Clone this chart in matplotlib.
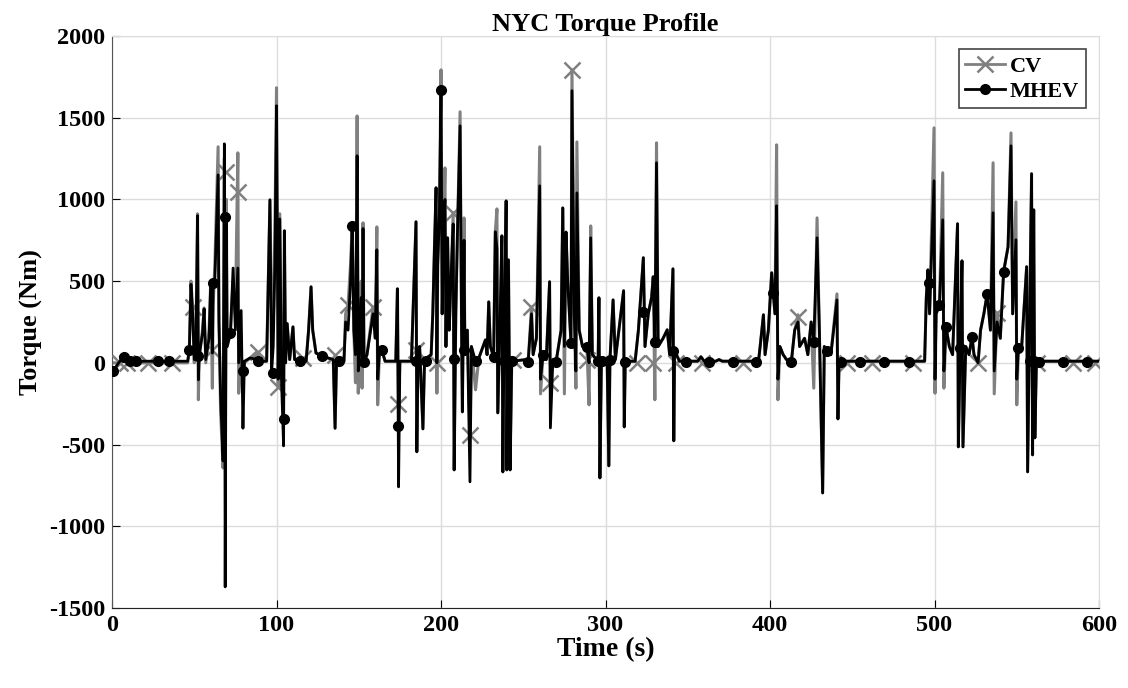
import matplotlib
matplotlib.use('Agg')
import matplotlib.pyplot as plt
from matplotlib.lines import Line2D

# Torque samples (time in s, torque in Nm)
time_s = [0, 1, 4, 7, 10, 15, 46, 47, 48, 49, 50, 51, 52, 52.5, 53, 55, 56, 57, 59, 60,
          61, 61.5, 62.5, 64.5, 65, 66, 67.5, 68.3, 68.8, 69.5, 70, 72, 73.6, 75, 76.5, 77, 78.5, 79.6, 80.5, 84,
          88, 90, 94, 95, 96, 97, 98, 99, 100, 101, 102, 103, 104.3, 104.8, 105.5, 106.5, 108, 110, 111, 118,
          119.5, 121, 122, 124, 128, 134.5, 135.6, 136.5, 141, 142, 143.5, 145, 146, 147, 148, 149, 149.7, 150.5, 151.5, 152,
          152.6, 153.2, 155, 158.7, 160, 161, 161.5, 162.5, 164, 166, 172.5, 173.5, 174.2, 175, 182, 184.8, 185.3, 186, 187, 189,
          190, 194, 195, 196, 197, 197.5, 198, 199, 200, 200.7, 201.5, 202.4, 203, 204, 205, 206, 207.4, 208, 209, 210,
          211.6, 212.5, 213, 214, 214.5, 216, 217.6, 218.5, 221, 223, 227, 228, 229, 230, 232, 233, 234, 234.5, 236, 237,
          237.6, 238.2, 239.6, 240, 241, 242, 243, 252, 253, 255, 256, 258, 260, 260.5, 262, 264, 266, 266.5, 268, 270,
          273, 274, 275, 276, 277, 279, 279.6, 281, 282, 282.6, 284, 286, 288.7, 290, 291, 292, 295.5, 296, 296.6, 297.5,
          301, 302, 302.7, 304.6, 306, 311, 311.4, 312, 318, 320, 323, 324, 326, 328, 329, 330, 331, 332, 335, 337.5,
          339, 341, 341.5, 342, 345, 356, 358, 360, 367, 369, 371, 393, 394, 396, 397, 399, 401, 402, 403, 404,
          404.8, 406, 408, 410, 413, 415, 417, 418, 421, 423, 425, 426.6, 428.6, 430, 432, 433, 434.6, 437, 440.7, 441.3,
          442, 494, 495, 496, 497, 499.7, 500.3, 501, 503, 505, 505.7, 507, 509, 511, 514, 514.5, 515.6, 516.7, 517.3, 519,
          521, 522.8, 524, 526.5, 528, 530, 532, 534, 535.6, 536.3, 538, 540, 542, 544.7, 546.5, 547.5, 549.5, 550, 551, 553,
          556, 556.6, 559, 559.6, 560.3, 561, 562, 563.5, 600]

cv_torque = [0, 0, 0, 20, 5, 0, 0, 80, 500, 340, 0, 150, 912, -226, 40, 200, 336, 0, 200, 500,
             -155, 350, 600, 1322, 300, -300, -643, 1250, -643, 1000, 100, 180, 500, 300, 1285, -186, 50, -100, 0, 30,
             67, 10, 10, 500, 997, 300, 200, 800, 1683, -146, 912, 0, -200, 808, 0, 240, 20, 220, 20, 10,
             200, 465, 200, 60, 40, 20, -400, 20, 10, 300, 355, 600, 845, 200, -122, 1511, -186, 300, 500, -155,
             857, 0, 50, 342, 200, 832, -257, 50, 80, 10, 10, 453, -263, 10, 10, 863, -544, 20, 100, -404,
             20, 50, 300, 700, 1071, -186, 600, 900, 1793, 300, 800, 1193, 100, 765, 200, 500, 918, -655, 300, 800,
             1536, 200, -300, 887, 80, 200, -440, 100, -165, 30, 140, 50, 373, 100, 37, 802, 942, -306, 300, 777,
             -667, 20, 991, -655, 630, -655, 10, 20, 10, 342, 50, 150, 1322, -190, 50, 20, 496, -135, 20, 10,
             200, 948, -190, 800, 500, 122, 1793, 300, -155, 1352, 200, 100, 98, -257, 838, 50, 10, 398, -704, 10,
             10, -630, 20, 385, 20, 441, -392, 10, 10, 200, 643, 100, 300, 400, 527, -226, 1346, 100, 150, 202,
             50, 575, -477, 73, 10, 10, 37, 10, 10, 20, 10, 10, 100, 294, 50, 200, 551, 428, 300, 1334,
             -226, 100, 50, 20, 10, 200, 294, 100, 150, 50, 250, -155, 887, 200, -796, 100, 73, 50, 422, -343,
             10, 10, 400, 569, 300, 1438, -186, 300, 355, 1163, -155, 220, 100, 50, 851, -514, 92, 624, -514, 100,
             50, 159, 50, 0, 200, 300, 422, 200, 1224, -190, 306, 150, 557, 710, 1407, 300, 985, -257, 92, 100,
             588, -667, 1157, -563, 936, -459, 30, 10, 10]

mhev_torque = [-50, -45, 0, 37, 12, 10, 10, 80, 480, 300, 20, 100, 900, -104, 43, 180, 330, 20, 150, 480,
               60, 490, 500, 1150, 250, -200, -600, 1340, -1371, 890, 100, 183, 580, 200, 580, 0, 320, -400, 10, 30,
               20, 10, 10, 500, 997, -61, 100, 600, 1573, -100, 880, -100, -508, 808, 0, 240, 20, 220, 20, 10,
               200, 465, 200, 60, 40, 20, -400, 20, 10, 250, 200, 500, 838, 200, 50, 1267, -50, 200, 400, 0,
               822, 6, 50, 300, 150, 692, -100, 50, 80, 10, 10, 453, -759, 10, 10, 863, -544, 20, 100, -404,
               20, 50, 300, 700, 1071, 0, 600, 900, 1671, 300, 800, 1000, 100, 765, 200, 500, 850, -655, 300, 800,
               1450, 200, -300, 750, 80, 200, -728, 100, 10, 30, 140, 50, 373, 100, 37, 802, 700, -306, 300, 777,
               -667, 20, 991, -655, 630, -655, 10, 20, 10, 300, 50, 150, 1083, -100, 50, 20, 496, -398, 20, 10,
               200, 948, 100, 800, 500, 122, 1665, 300, -50, 1040, 200, 100, 98, 0, 765, 50, 10, 398, -704, 10,
               10, -630, 20, 385, 20, 441, -392, 10, 10, 200, 643, 100, 300, 400, 527, 128, 1224, 100, 150, 202,
               50, 575, -477, 73, 10, 10, 37, 10, 10, 20, 10, 10, 100, 294, 50, 200, 551, 428, 300, 961,
               -100, 100, 50, 20, 10, 200, 250, 100, 150, 50, 250, 128, 765, 200, -796, 100, 73, 50, 385, -343,
               10, 10, 400, 569, 300, 1114, -100, 300, 355, 875, -50, 220, 100, 50, 851, -514, 92, 624, -514, 100,
               50, 159, 50, 0, 200, 300, 422, 200, 918, -50, 250, 150, 557, 710, 1328, 300, 753, -100, 92, 100,
               588, -667, 1157, -563, 936, -459, 30, 10, 10]

# marker positions as they appear on the figure
cv_mark_t = [4.9, 9, 22, 36.5, 49, 61, 69, 76.5, 89, 101, 116, 135.6, 143.5, 158.7, 174, 185, 197.5, 207.4,
             217.6, 243.7, 255, 266, 279.6, 289, 319, 329, 343, 358.6, 383.6, 417, 447, 462, 487, 526.5, 538,
             562, 584, 597.6]
cv_mark_v = [0, 0, 0, 0, 342, 80, 1170, 1046, 67, -146, 30, 50, 355, 342, -250, 80, 0, 918,
             -440, 18, 342, -122, 1793, 20, 0, 0, 0, 0, 0, 280, 0, 0, 0, 0, 306,
             0, 0, 0]

mhev_mark_t = [0.5, 7, 11, 14.6, 28, 34.8, 47, 52, 61.4, 68.7, 72, 79.6, 89, 97.6, 104.3, 114, 127.7, 138,
               146, 153, 164, 174, 185, 191, 199.8, 208, 214, 221, 232, 238, 243, 253, 262, 270, 279, 288.7,
               295.5, 298, 302.7, 311.8, 322.8, 330, 341, 349, 363, 377.5, 391.5, 402, 413, 427, 434.6, 443,
               455, 469, 484.5, 496.6, 503, 507, 515.6, 522.8, 532, 542, 551, 558, 563.5, 578, 592.6]
mhev_mark_v = [-49, 37, 12, 12, 12, 12, 80, 43, 490, 893, 183, -49, 12, -61, -343, 12, 43, 12,
               838, 6, 80, -386, 12, 12, 1671, 24, 80, 12, 37, 12, 12, 6, 50, 6, 122, 98,
               12, 12, 20, 6, 312, 128, 73, 6, 6, 6, 6, 428, 6, 128, 73, 6,
               6, 6, 6, 490, 355, 220, 92, 159, 422, 557, 92, 12, 6, 6, 6]

plt.rcParams['font.family'] = ['Liberation Serif', 'DejaVu Serif']
plt.rcParams['font.weight'] = 'bold'
plt.rcParams['axes.unicode_minus'] = False

cv_color = '#808080'
mhev_color = 'black'

fig = plt.figure(figsize=(11.28, 6.88), dpi=100)
ax = fig.add_axes([0.0993, 0.1163, 0.875, 0.8314])

ax.plot(time_s, cv_torque, color=cv_color, lw=2.2, zorder=2)
ax.plot(cv_mark_t, cv_mark_v, ls='none', marker='x', ms=11, mew=1.8, color=cv_color, zorder=3)
ax.plot(time_s, mhev_torque, color=mhev_color, lw=2.0, zorder=4)
ax.plot(mhev_mark_t, mhev_mark_v, ls='none', marker='o', ms=7, color=mhev_color, zorder=5)

ax.set_xlim(0, 600)
ax.set_ylim(-1500, 2000)
ax.set_xticks(range(0, 601, 100))
ax.set_yticks(range(-1500, 2001, 500))
ax.grid(True, color='#dcdcdc', lw=1)
ax.set_axisbelow(True)
for s in ['top', 'right']:
    ax.spines[s].set_color('#dcdcdc')
ax.spines['left'].set_color('#555555')
ax.spines['bottom'].set_color('#222222')
ax.tick_params(direction='in', length=6, labelsize=17.5, pad=5)

ax.set_xlabel('Time (s)', fontsize=20, fontweight='bold', labelpad=1)
ax.set_ylabel('Torque (Nm)', fontsize=19, fontweight='bold', labelpad=4)
ax.set_title('NYC Torque Profile', fontsize=19, fontweight='bold', pad=1)

handles = [Line2D([], [], color=cv_color, lw=2, marker='x', ms=11, mew=1.8),
           Line2D([], [], color=mhev_color, lw=2, marker='o', ms=7)]
leg = ax.legend(handles, ['CV', 'MHEV'], loc='upper right', fontsize=16, fancybox=False,
                edgecolor='#444444', framealpha=1, handlelength=1.8, handletextpad=0.2,
                borderpad=0.3, labelspacing=0.2, borderaxespad=0.6)
leg.get_frame().set_linewidth(1.2)

fig.savefig('out.png', dpi=100)
